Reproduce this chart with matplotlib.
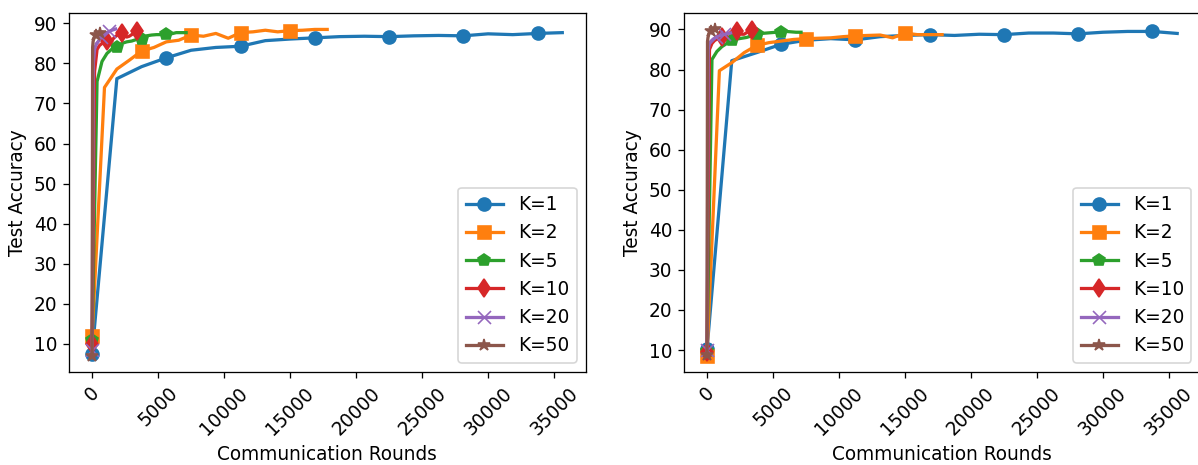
import numpy as np
import matplotlib
matplotlib.use('Agg')
import matplotlib.pyplot as plt

# local steps K, and how many communication rounds between two evaluations
ks = [1, 2, 5, 10, 20, 50]
eval_every = [1875, 937.5, 375, 187.5, 93.75, 37.5]
n_evals = 20

# test accuracy, left panel
acc_left = {
    1: [7.5, 76.2, 79.2, 81.4, 83.3, 84.0, 84.3, 85.7, 86.1, 86.4, 86.7, 86.8, 86.7, 86.9, 87.0, 86.9, 87.4, 87.2, 87.5, 87.7],
    2: [11.8, 74.0, 78.6, 80.8, 83.1, 84.0, 85.4, 85.8, 87.1, 86.8, 87.5, 86.3, 87.7, 87.9, 88.3, 87.9, 88.2, 88.3, 88.5, 88.5],
    5: [11.0, 75.5, 80.5, 82.5, 83.6, 84.2, 85.0, 85.4, 85.6, 86.0, 86.1, 86.9, 87.1, 87.2, 87.2, 87.3, 87.4, 87.7, 87.7, 87.7],
    10: [10.0, 78.0, 83.5, 84.5, 85.0, 85.3, 85.5, 85.2, 85.8, 86.5, 87.0, 87.3, 87.5, 87.0, 86.6, 86.8, 87.2, 87.7, 88.0, 87.6],
    20: [8.5, 80.0, 83.5, 84.5, 85.0, 85.5, 86.0, 86.5, 86.8, 87.0, 87.3, 87.5, 87.7, 87.8, 88.0, 88.2, 88.3, 88.4, 88.5, 88.6],
    50: [7.0, 84.0, 85.5, 86.0, 86.3, 86.6, 86.8, 87.0, 87.1, 87.2, 87.3, 87.3, 87.4, 87.5, 87.5, 87.6, 87.7, 87.7, 87.8, 87.8],
}

# test accuracy, right panel
acc_right = {
    1: [10.2, 82.2, 84.2, 86.3, 87.3, 87.7, 87.4, 88.2, 88.5, 88.7, 88.5, 88.8, 88.7, 89.1, 89.1, 88.9, 89.3, 89.5, 89.5, 89.0],
    2: [8.6, 79.7, 81.7, 84.2, 86.0, 86.7, 87.1, 87.5, 87.7, 87.8, 87.9, 88.2, 88.4, 88.5, 88.6, 87.9, 89.1, 88.7, 88.7, 88.7],
    5: [9.7, 82.5, 84.5, 85.7, 86.5, 87.3, 87.6, 87.8, 88.0, 88.4, 88.9, 89.0, 89.1, 89.2, 89.3, 89.4, 89.5, 89.4, 89.3, 89.3],
    10: [9.5, 85.0, 86.5, 87.2, 87.6, 87.8, 88.0, 88.4, 88.8, 89.1, 89.3, 89.5, 89.7, 89.2, 88.8, 88.8, 89.2, 89.6, 89.8, 89.4],
    20: [10.0, 85.0, 86.5, 87.0, 87.3, 87.6, 87.8, 88.0, 88.2, 88.3, 88.4, 88.5, 88.6, 88.7, 88.8, 88.8, 88.9, 89.0, 89.0, 89.1],
    50: [8.8, 87.0, 88.0, 88.5, 89.0, 89.2, 89.3, 89.5, 89.6, 89.7, 89.8, 89.9, 89.9, 90.0, 90.0, 89.9, 90.0, 90.1, 90.0, 90.1],
}

markers = ['o', 's', 'p', 'd', 'x', '*']
colors = ['tab:blue', 'tab:orange', 'tab:green', 'tab:red', 'tab:purple', 'tab:brown']

# figure settings
dpi = 117
W, H = 1198, 465
plt.rcParams.update({'font.size': 11.4, 'font.family': 'DejaVu Sans'})

fig = plt.figure(figsize=(W / dpi, H / dpi), dpi=dpi)
ax_w = 517.2 / W
ax_h = 359.3 / H
ax_b = (H - 372.0) / H
axes = [fig.add_axes([68.6 / W, ax_b, ax_w, ax_h]),
        fig.add_axes([683.5 / W, ax_b, ax_w, ax_h])]

for ax, acc in zip(axes, [acc_left, acc_right]):
    for i, k in enumerate(ks):
        rounds = np.arange(n_evals) * eval_every[i]
        ax.plot(rounds, acc[k], color=colors[i], marker=markers[i],
                markevery=i + 3, markersize=8, linewidth=2.0,
                label='K=%d' % k)
    ax.set_xticks(np.arange(0, 35001, 5000))
    ax.tick_params(axis='x', labelrotation=45)
    ax.set_xlabel('Communication Rounds')
    ax.set_ylabel('Test Accuracy')
    ax.legend(loc='lower right')

fig.savefig('out.png', dpi=dpi)
